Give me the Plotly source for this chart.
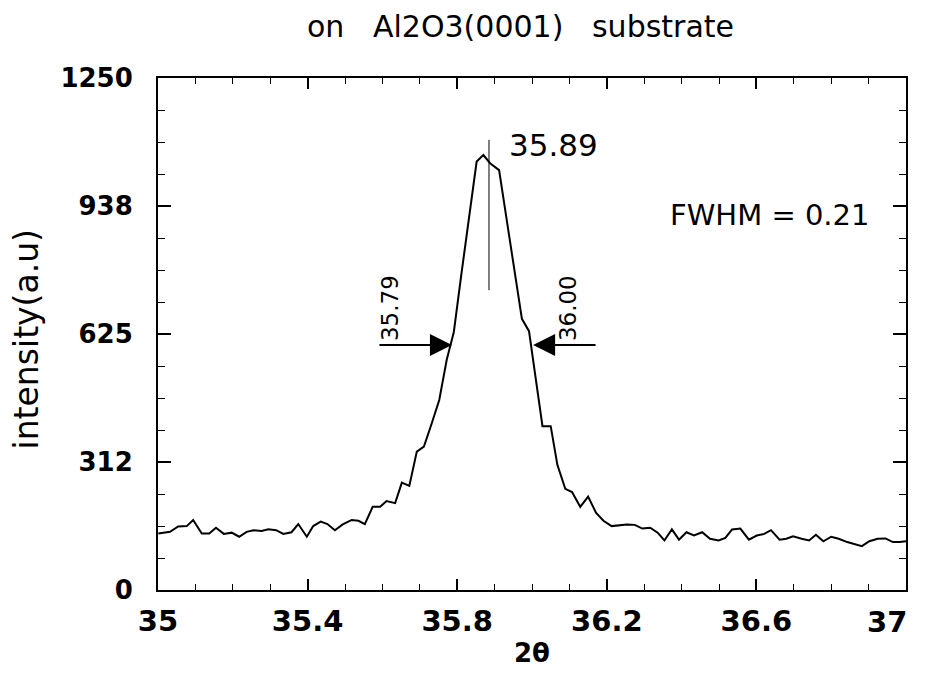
import plotly.graph_objects as go

# ---- data ----
two_theta = [35.001, 35.032, 35.054, 35.077, 35.094, 35.117, 35.137, 35.155, 35.176, 35.197,
             35.217, 35.237, 35.255, 35.277, 35.295, 35.316, 35.335, 35.357, 35.375, 35.398,
             35.415, 35.435, 35.453, 35.473, 35.494, 35.518, 35.536, 35.553, 35.574, 35.594,
             35.611, 35.634, 35.652, 35.672, 35.692, 35.711, 35.732, 35.752, 35.772,
             35.791, 35.811, 35.832, 35.852, 35.870, 35.888, 35.912, 35.934, 35.955, 35.973,
             35.992, 36.009,
             36.028, 36.050, 36.068, 36.089, 36.107, 36.129, 36.150, 36.171, 36.191, 36.213,
             36.236, 36.254, 36.275, 36.295, 36.316, 36.336, 36.354, 36.374, 36.393, 36.413,
             36.433, 36.455, 36.476, 36.499, 36.517, 36.535, 36.557, 36.580, 36.601, 36.621,
             36.639, 36.662, 36.680, 36.698, 36.721, 36.741, 36.759, 36.779, 36.800, 36.820,
             36.843, 36.861, 36.882, 36.902, 36.924, 36.945, 36.965, 36.983, 37.000]

intensity = [138, 142, 155, 156, 171, 138, 138, 152, 137, 140,
             130, 142, 146, 144, 148, 146, 137, 141, 161, 130,
             156, 167, 161, 146, 160, 171, 169, 161, 203, 203,
             217, 212, 262, 254, 338, 350, 407, 464, 562,
             630, 770, 905, 1046, 1062, 1042, 1025, 890, 760, 662,
             632, 525,
             400, 400, 305, 247, 239, 203, 228, 189, 169, 156,
             159, 160, 159, 150, 152, 140, 121, 148, 123, 141,
             133, 141, 125, 121, 127, 148, 150, 123, 133, 137,
             146, 123, 125, 131, 125, 121, 135, 119, 130, 125,
             117, 113, 107, 119, 125, 126, 117, 117, 119]

# the last label ("37") is drawn as a separate text so it stays inside the page
x_tick_vals = [35, 35.4, 35.8, 36.2, 36.6, 37]
x_tick_text = ["35", "35.4", "35.8", "36.2", "36.6", ""]
last_x_label = "37"
y_tick_vals = [0, 312.5, 625, 937.5, 1250]
y_tick_text = ["0", "312", "625", "938", "1250"]

peak_pos = 35.885
peak_marker_y = [732, 1099]
half_max = 598
fwhm_left, fwhm_right = 35.786, 36.003
arrow_tail_left, arrow_tail_right = 35.588, 36.174

FONT = "DejaVu Sans"

fig = go.Figure()
fig.add_trace(go.Scatter(x=two_theta, y=intensity, mode="lines",
                         line=dict(color="black", width=2), showlegend=False,
                         hoverinfo="skip"))
fig.add_trace(go.Scatter(x=[peak_pos, peak_pos], y=peak_marker_y, mode="lines",
                         line=dict(color="black", width=1), showlegend=False,
                         hoverinfo="skip"))

annotations = [
    # title
    dict(text="on   Al2O3(0001)   substrate", xref="paper", yref="paper",
         x=0.484, y=1.10, showarrow=False, font=dict(family=FONT, size=30, color="black"),
         xanchor="center", yanchor="middle"),
    # y axis title
    dict(text="intensity(a.u)", xref="paper", yref="paper", x=-0.176, y=0.49,
         textangle=-90, showarrow=False, font=dict(family=FONT, size=33, color="black"),
         xanchor="center", yanchor="middle"),
    # x axis title
    dict(text="<b>2θ</b>", xref="paper", yref="paper", x=0.5, y=-0.123,
         showarrow=False, font=dict(family=FONT, size=26, color="black"),
         xanchor="center", yanchor="middle"),
    # last x tick label
    dict(text=last_x_label, xref="paper", yref="paper", x=0.975, y=-0.0625,
         showarrow=False, xanchor="center", yanchor="middle",
         font=dict(family=FONT, size=29, color="black", weight="bold")),
    # peak label
    dict(text="35.89", x=35.933, y=1086, xref="x", yref="y", showarrow=False,
         xanchor="left", yanchor="middle", font=dict(family=FONT, size=31, color="black")),
    dict(text="FWHM = 0.21", x=36.364, y=915, xref="x", yref="y", showarrow=False,
         xanchor="left", yanchor="middle", font=dict(family=FONT, size=29, color="black")),
    dict(text="35.79", x=35.620, y=688, xref="x", yref="y", showarrow=False,
         textangle=-90, xanchor="center", yanchor="middle",
         font=dict(family=FONT, size=23, color="black")),
    dict(text="36.00", x=36.096, y=688, xref="x", yref="y", showarrow=False,
         textangle=-90, xanchor="center", yanchor="middle",
         font=dict(family=FONT, size=23, color="black")),
    # FWHM arrows
    dict(x=fwhm_left, y=half_max, ax=arrow_tail_left, ay=half_max,
         xref="x", yref="y", axref="x", ayref="y", text="", showarrow=True,
         arrowhead=2, arrowsize=2.2, arrowwidth=2, arrowcolor="black"),
    dict(x=fwhm_right, y=half_max, ax=arrow_tail_right, ay=half_max,
         xref="x", yref="y", axref="x", ayref="y", text="", showarrow=True,
         arrowhead=2, arrowsize=2.2, arrowwidth=2, arrowcolor="black"),
]

fig.update_layout(
    width=919, height=676,
    margin=dict(l=150, r=21, t=70, b=94, autoexpand=False),
    paper_bgcolor="white", plot_bgcolor="white",
    showlegend=False,
    annotations=annotations,
    xaxis=dict(range=[35, 37], tickmode="array", tickvals=x_tick_vals, ticktext=x_tick_text,
               ticks="inside", ticklen=11, tickwidth=1.5, tickcolor="black",
               minor=dict(tick0=35, dtick=0.1, ticks="inside", ticklen=6, tickwidth=1.2,
                          tickcolor="black", showgrid=False),
               showline=True, linewidth=2, linecolor="black", mirror="ticks",
               showgrid=False, zeroline=False, automargin=False,
               tickfont=dict(family=FONT, size=29, color="black", weight="bold"),
               ticklabelstandoff=4, ticklabeloverflow="allow"),
    yaxis=dict(range=[0, 1250], tickmode="array", tickvals=y_tick_vals, ticktext=y_tick_text,
               ticks="inside", ticklen=13, tickwidth=1.5, tickcolor="black",
               minor=dict(tick0=0, dtick=78.125, ticks="inside", ticklen=7, tickwidth=1.2,
                          tickcolor="black", showgrid=False),
               showline=True, linewidth=2, linecolor="black", mirror="ticks",
               showgrid=False, zeroline=False, automargin=False,
               tickfont=dict(family=FONT, size=26, color="black", weight="bold"),
               ticklabelstandoff=18, ticklabeloverflow="allow"),
)

fig.write_html("out.html")
